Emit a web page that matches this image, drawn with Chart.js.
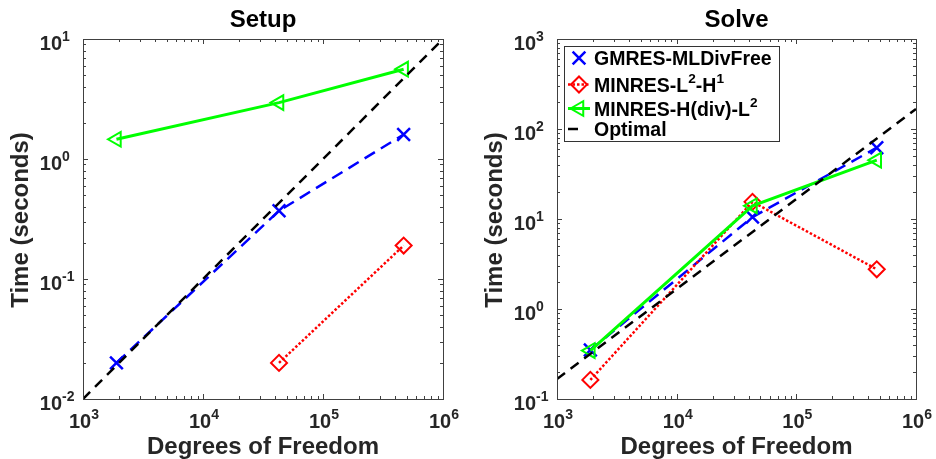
<!DOCTYPE html>
<html>
<head>
<meta charset="utf-8">
<script src="https://cdn.jsdelivr.net/npm/chart.js@4"></script>
<style>
  body { margin: 0; background: #fff; }
  #wrap { position: relative; width: 936px; height: 459px; }
  canvas { position: absolute; top: 0; }
</style>
</head>
<body>
<div id="wrap">
  <canvas id="setup" width="468" height="459" style="left:0"></canvas>
  <canvas id="solve" width="468" height="459" style="left:468px"></canvas>
</div>
<script>
// degrees of freedom of the three meshes
const dof = [1.9e3, 4.3e4, 4.7e5];

// setup times (s)
const setupGmres = [0.02, 0.37, 1.6];
const setupL2H1 = [null, 0.02, 0.19];
const setupHdiv = [1.46, 2.95, 5.6];

// solve times (s)
const solveGmres = [0.35, 10.5, 62];
const solveL2H1 = [0.163, 15.5, 2.76];
const solveHdiv = [0.345, 14, 45];

// reference slope-1 line
const optimalDof = [1e3, 1e6];
const setupOptimal = [1e-2, 1e1];
const solveOptimal = [0.167, 167];

// legend labels, [text, superscript?]
const legendLabels = [
  [['GMRES-MLDivFree']],
  [['MINRES-L'], ['2', true], ['-H'], ['1', true]],
  [['MINRES-H(div)-L'], ['2', true]],
  [['Optimal']]
];

const FONT = '"Liberation Sans", Arial, Helvetica, sans-serif';
const TXT = '#262626';
const AXIS = '#404040';

function pts(xs, ys) {
  return xs.map((x, i) => ({ x: x, y: ys[i] })).filter(p => p.y != null);
}

function richWidth(ctx, parts, size) {
  let w = 0;
  parts.forEach(([t, sup]) => {
    ctx.font = `bold ${sup ? size * 0.7 : size}px ${FONT}`;
    w += ctx.measureText(t).width;
  });
  return w;
}

function drawRich(ctx, parts, x, y, size) {
  let cx = x;
  ctx.textAlign = 'left';
  parts.forEach(([t, sup]) => {
    ctx.font = `bold ${sup ? size * 0.7 : size}px ${FONT}`;
    ctx.fillText(t, cx, sup ? y - size * 0.45 : y);
    cx += ctx.measureText(t).width;
  });
}

function makeDatasets(g, r, h, opt) {
  return [
    { label: 'GMRES-MLDivFree', data: pts(dof, g), borderColor: '#0000ff', borderWidth: 2.5,
      borderDash: [12, 7], pointStyle: 'crossRot', pointRadius: 9, pointBorderWidth: 2.5, order: 4 },
    { label: 'MINRES-L2-H1', data: pts(dof, r), borderColor: '#ff0000', borderWidth: 2.5,
      borderDash: [2.5, 2], pointStyle: 'rectRot', pointRadius: 8, pointBorderWidth: 2, order: 3 },
    { label: 'MINRES-H(div)-L2', data: pts(dof, h), borderColor: '#00ff00', borderWidth: 3,
      borderDash: [], pointStyle: 'triangle', pointRotation: -90, pointRadius: 8.5, pointBorderWidth: 2, order: 2 },
    { label: 'Optimal', data: pts(optimalDof, opt), borderColor: '#000000', borderWidth: 2.5,
      borderDash: [10, 7], pointRadius: 0, order: 1 }
  ].map(d => Object.assign(d, { backgroundColor: 'rgba(0,0,0,0)', pointBackgroundColor: 'rgba(0,0,0,0)',
                                fill: false, tension: 0, borderCapStyle: 'butt' }));
}

// MATLAB-like box, inner ticks, 10^n labels and titles
const axesFrame = {
  id: 'axesFrame',
  afterDraw(chart, args, opts) {
    const { ctx, chartArea: a, scales: { x, y } } = chart;
    ctx.save();
    ctx.strokeStyle = AXIS;
    ctx.lineWidth = 1;
    ctx.strokeRect(a.left + 0.5, a.top + 0.5, a.right - a.left, a.bottom - a.top);

    const each = (scale, fn) => {
      const lo = Math.round(Math.log10(scale.min)), hi = Math.round(Math.log10(scale.max));
      for (let e = lo; e <= hi; e++) {
        for (let k = 1; k <= 9; k++) {
          if (e === hi && k > 1) break;
          fn(scale.getPixelForValue(k * Math.pow(10, e)), k === 1, e, k);
        }
      }
    };
    ctx.beginPath();
    each(x, (px, major) => {
      const p = Math.round(px) + 0.5, len = major ? 5 : 3;
      ctx.moveTo(p, a.bottom); ctx.lineTo(p, a.bottom - len);
      ctx.moveTo(p, a.top); ctx.lineTo(p, a.top + len);
    });
    each(y, (py, major) => {
      const p = Math.round(py) + 0.5, len = major ? 5 : 3;
      ctx.moveTo(a.left, p); ctx.lineTo(a.left + len, p);
      ctx.moveTo(a.right, p); ctx.lineTo(a.right - len, p);
    });
    ctx.stroke();

    ctx.fillStyle = TXT;
    ctx.textBaseline = 'alphabetic';
    each(x, (px, major, e) => {
      if (!major) return;
      const parts = [['10'], [String(e), true]];
      const w = richWidth(ctx, parts, 20);
      drawRich(ctx, parts, px - w / 2 + 1, a.bottom + 29, 20);
    });
    each(y, (py, major, e) => {
      if (!major) return;
      ctx.font = `bold 20px ${FONT}`;
      ctx.textAlign = 'right';
      ctx.fillText('10', a.left - 21, py + 10.5);
      ctx.font = `bold 14px ${FONT}`;
      ctx.textAlign = 'left';
      ctx.fillText(String(e), a.left - 21, py + 1.5);
    });

    const cx = (a.left + a.right) / 2;
    ctx.font = `bold 24px ${FONT}`;
    ctx.textAlign = 'center';
    ctx.fillText('Degrees of Freedom', cx, 454);
    ctx.fillStyle = '#000';
    ctx.fillText(opts.title, cx, 27);
    ctx.fillStyle = TXT;
    ctx.save();
    ctx.translate(a.left - 55, (a.top + a.bottom) / 2 + 1);
    ctx.rotate(-Math.PI / 2);
    ctx.fillText('Time (seconds)', 0, 0);
    ctx.restore();
    ctx.restore();
  }
};

// boxed legend with line samples and markers
const boxLegend = {
  id: 'boxLegend',
  afterDraw(chart, args, opts) {
    if (!opts.show) return;
    const ctx = chart.ctx;
    const bx = 96.5, by = 46.5, bw = 215, bh = 95;
    const rows = [65, 91.5, 115.5, 136];
    ctx.save();
    ctx.fillStyle = '#fff';
    ctx.fillRect(bx, by, bw, bh);
    ctx.strokeStyle = '#333';
    ctx.lineWidth = 1;
    ctx.strokeRect(bx, by, bw, bh);
    chart.data.datasets.forEach((ds, i) => {
      const my = rows[i] - 7;
      ctx.strokeStyle = ds.borderColor;
      ctx.lineWidth = ds.borderWidth;
      ctx.setLineDash(ds.borderDash || []);
      ctx.beginPath();
      ctx.moveTo(100, my);
      ctx.lineTo(i === 3 ? 111 : 122, my);
      if (i !== 0) ctx.stroke();
      ctx.setLineDash([]);
      if (ds.pointRadius > 0) {
        ctx.lineWidth = ds.pointBorderWidth;
        ctx.fillStyle = 'rgba(0,0,0,0)';
        Chart.helpers.drawPoint(ctx, { pointStyle: ds.pointStyle, rotation: ds.pointRotation || 0,
          radius: ds.pointRadius, borderWidth: ds.pointBorderWidth }, 111, my);
      }
      ctx.fillStyle = '#000';
      drawRich(ctx, legendLabels[i], 126, rows[i], 19.5);
    });
    ctx.restore();
  }
};

function makeChart(id, sets, yMin, yMax, title, pad, legend) {
  return new Chart(document.getElementById(id), {
    type: 'line',
    data: { datasets: sets },
    options: {
      responsive: false,
      animation: false,
      layout: { padding: pad },
      scales: {
        x: { type: 'logarithmic', min: 1e3, max: 1e6, display: false },
        y: { type: 'logarithmic', min: yMin, max: yMax, display: false }
      },
      plugins: {
        legend: { display: false },
        tooltip: { enabled: false },
        axesFrame: { title: title },
        boxLegend: { show: legend }
      }
    },
    plugins: [axesFrame, boxLegend]
  });
}

makeChart('setup', makeDatasets(setupGmres, setupL2H1, setupHdiv, setupOptimal), 1e-2, 1e1, 'Setup',
  { left: 83, right: 25, top: 39, bottom: 60 }, false);
makeChart('solve', makeDatasets(solveGmres, solveL2H1, solveHdiv, solveOptimal), 1e-1, 1e3, 'Solve',
  { left: 89, right: 20, top: 39, bottom: 60 }, true);
</script>
</body>
</html>
